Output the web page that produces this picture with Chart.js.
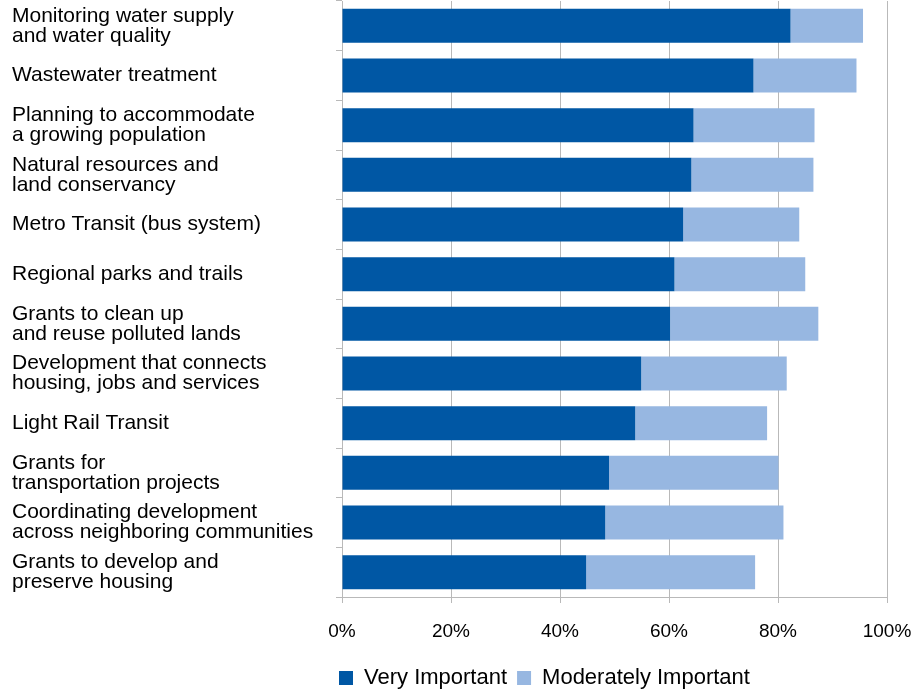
<!DOCTYPE html>
<html>
<head>
<meta charset="utf-8">
<script src="https://cdn.jsdelivr.net/npm/chart.js@4/dist/chart.umd.min.js"></script>
<style>
  html, body { margin: 0; padding: 0; background: #ffffff; }
  #wrap { width: 923px; height: 694px; }
</style>
</head>
<body>
<div id="wrap"><canvas id="c" width="923" height="694"></canvas></div>
<script>
const categories = [
  ["Monitoring water supply", "and water quality"],
  "Wastewater treatment",
  ["Planning to accommodate", "a growing population"],
  ["Natural resources and", "land conservancy"],
  "Metro Transit (bus system)",
  "Regional parks and trails",
  ["Grants to clean up", "and reuse polluted lands"],
  ["Development that connects", "housing, jobs and services"],
  "Light Rail Transit",
  ["Grants for", "transportation projects"],
  ["Coordinating development", "across neighboring communities"],
  ["Grants to develop and", "preserve housing"]
];
const veryImportant       = [82.3, 75.5, 64.5, 64.1, 62.6, 61.0, 60.2, 54.9, 53.8, 49.0, 48.3, 44.8];
const moderatelyImportant = [13.3, 18.9, 22.2, 22.4, 21.3, 24.0, 27.2, 26.7, 24.2, 31.1, 32.7, 31.0];
const seriesNames = ["Very Important", "Moderately Important"];
const xTicks = [0, 20, 40, 60, 80, 100];

const gridColor = '#b9b9b9';

const legendShift = {
  id: 'legendShift',
  afterLayout(chart) {
    const lg = chart.legend;
    if (lg) { lg.left -= 13; lg.right -= 13; }
  }
};

new Chart(document.getElementById('c'), {
  type: 'bar',
  data: {
    labels: categories,
    datasets: [
      { label: seriesNames[0], data: veryImportant, backgroundColor: '#0057a4', borderWidth: 0 },
      { label: seriesNames[1], data: moderatelyImportant, backgroundColor: '#97b7e1', borderWidth: 0 }
    ]
  },
  options: {
    indexAxis: 'y',
    responsive: false,
    animation: false,
    devicePixelRatio: 1,
    layout: { padding: { left: 12, right: 36, top: 1, bottom: -5 } },
    datasets: { bar: { barPercentage: 1.0, categoryPercentage: 0.685 } },
    scales: {
      x: {
        stacked: true,
        min: 0, max: 100,
        afterBuildTicks(scale) { scale.ticks = xTicks.map(v => ({ value: v })); },
        afterFit(scale) { scale.height = 60; scale.paddingLeft = 0; scale.paddingRight = 0; },
        grid: { color: gridColor, lineWidth: 1, tickLength: 6, drawTicks: true },
        border: { display: true, color: gridColor, width: 1 },
        ticks: {
          padding: 17,
          color: '#000000',
          font: { family: '"Liberation Sans Narrow", "Liberation Sans", Arial, sans-serif', size: 19 },
          callback: v => v + '%'
        }
      },
      y: {
        stacked: true,
        afterFit(scale) { scale.width = 330; scale.paddingTop = 0; scale.paddingBottom = 0; },
        grid: { drawOnChartArea: false, color: gridColor, tickLength: 6, offset: true },
        border: { display: true, color: gridColor, width: 1 },
        ticks: {
          crossAlign: 'far',
          color: '#000000',
          autoSkip: false,
          font: { family: '"Liberation Sans", Arial, sans-serif', size: 21, lineHeight: 0.94 }
        }
      }
    },
    plugins: {
      legend: {
        position: 'bottom',
        align: 'start',
        fullSize: false,
        labels: {
          boxWidth: 14,
          boxHeight: 14,
          padding: 10,
          color: '#000000',
          font: { family: '"Liberation Sans", Arial, sans-serif', size: 22 }
        }
      },
      tooltip: { enabled: false }
    }
  },
  plugins: [legendShift]
});
</script>
</body>
</html>
